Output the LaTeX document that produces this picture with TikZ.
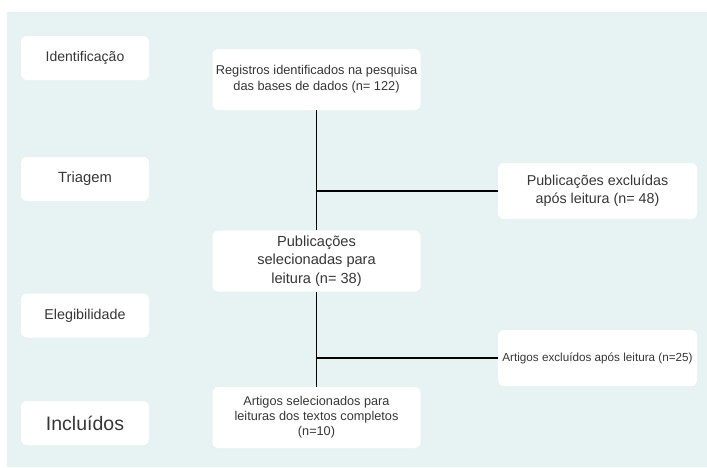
\documentclass[tikz,border=0pt]{standalone}
\usepackage{fontspec}
\setmainfont{Liberation Sans}
\definecolor{panelbg}{RGB}{231,243,243}
\definecolor{boxtext}{RGB}{55,55,55}
\begin{document}
\begin{tikzpicture}[x=1pt,y=-1pt,
    box/.style={fill=white,rounded corners=6pt,text=boxtext,align=center,inner sep=0pt},
    phase/.style={box,minimum width=128pt,minimum height=44pt},
    flow/.style={box,minimum width=208pt,minimum height=61pt},
    side/.style={box,minimum width=199pt,minimum height=56pt},
    link/.style={draw=black,line width=1.6pt}]
        \useasboundingbox (0,0) rectangle (707,467);
        \fill[panelbg] (7,12) rectangle (707,467);
        \node[phase,font={\fontsize{14}{17}\selectfont}] (ident) at (85,58) {Identificação};
        \node[phase,font={\fontsize{14.8}{18}\selectfont}] (triag) at (85,179) {Triagem};
        \node[phase,font={\fontsize{14.3}{17}\selectfont}] (elegi) at (85,315.5) {Elegibilidade};
        \node[phase,font={\fontsize{19.5}{23}\selectfont}] (inclu) at (85,423) {Incluídos};
        \node[flow,font={\fontsize{12.8}{16}\selectfont}] (regis) at (316.5,79.5) {Registros identificados na pesquisa\\ das bases de dados (n= 122)};
        \node[flow,font={\fontsize{14.6}{18.5}\selectfont}] (pubsel) at (316.5,261) {Publicações\\ selecionadas para\\ leitura (n= 38)};
        \node[flow,font={\fontsize{12.7}{15}\selectfont}] (artsel) at (316.5,417.5) {Artigos selecionados para\\ leituras dos textos completos\\ (n=10)};
        \node[side,font={\fontsize{14.3}{18}\selectfont}] (pubexc) at (597.5,191) {Publicações excluídas\\ após leitura (n= 48)};
        \node[side,font={\fontsize{11.7}{14}\selectfont}] (artexc) at (597.5,358) {Artigos excluídos após leitura (n=25)};
        \coordinate (split1) at (regis.south |- pubexc.west);
        \coordinate (split2) at (regis.south |- artexc.west);
        \draw[link] (regis.south) -- (pubsel.north);
        \draw[link] (pubsel.south) -- (artsel.north);
        \draw[link,line width=1.3pt] (split1) -- (pubexc.west);
        \draw[link,line width=1.3pt] (split2) -- (artexc.west);
      \end{tikzpicture}
\end{document}
